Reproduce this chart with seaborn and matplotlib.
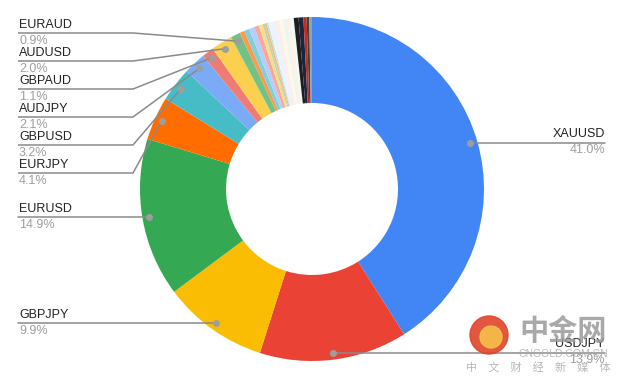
import matplotlib
matplotlib.use("Agg")
import matplotlib.pyplot as plt
import seaborn as sns
import numpy as np
from matplotlib.patches import Circle

# ---- data ----
labels = ["XAUUSD", "USDJPY", "GBPJPY", "EURUSD", "EURJPY", "GBPUSD", "AUDJPY",
          "GBPAUD", "AUDUSD", "EURAUD",
          "s1", "s2", "s3", "s4", "s5", "s6", "s7", "s8",
          "p1", "p2", "p3", "p4", "p5", "p6",
          "d1", "d2", "d3", "d4", "d5"]
values = [41.0, 13.9, 9.9, 14.9, 4.1, 3.2, 2.1, 1.1, 2.0, 0.9,
          0.45, 0.5, 0.5, 0.45, 0.35, 0.2, 0.2, 0.15,
          0.6, 0.4, 0.4, 0.35, 0.35, 0.3,
          0.45, 0.45, 0.3, 0.25, 0.25]
colors = ["#4285F4", "#EA4335", "#FBBC04", "#34A853", "#FF6D01", "#46BDC6", "#7BAAF7",
          "#F07B72", "#FCD04F", "#71C287",
          "#FF994D", "#7ED1D7", "#B3CEFB", "#F7A7A1", "#FDDE83", "#AADAB7", "#FFB680", "#B5E5E8",
          "#ECF3FE", "#FDEEED", "#FFF8E6", "#EBF6EE", "#FFF0E6", "#EDF8F9",
          "#1E1E1E", "#1A2540", "#C62828", "#2E4A3A", "#9E9E9E"]
left_stack = ["EURAUD", "AUDUSD", "GBPAUD", "AUDJPY", "GBPUSD", "EURJPY"]
left_straight = ["EURUSD", "GBPJPY"]
right_labels = ["XAUUSD", "USDJPY"]

sns.set_theme(style="white")
plt.rcParams['font.family'] = ['Liberation Sans', 'Noto Sans CJK SC', 'DejaVu Sans']

W, H = 624, 385
fig = plt.figure(figsize=(W / 100, H / 100), dpi=100)
ax = fig.add_axes([0, 0, 1, 1])

def Y(y):
    return H - y

cx, cy = 312, Y(189)
R = 172
wedges, _ = ax.pie(values, colors=colors, startangle=90, counterclock=False,
                   radius=R, center=(cx, cy),
                   wedgeprops=dict(width=86, linewidth=0))
ax.set_xlim(0, W)
ax.set_ylim(0, H)
ax.set_aspect('equal')
ax.axis('off')

total = sum(values)
line_c = "#8a8a8a"
dot_c = "#9e9e9e"
txt_c = "#222222"
pct_c = "#9e9e9e"
fs = 9

def dot_of(name):
    w = wedges[labels.index(name)]
    a = np.deg2rad((w.theta1 + w.theta2) / 2)
    r = 165
    return cx + r * np.cos(a), cy + r * np.sin(a)

def pct(name):
    return f"{values[labels.index(name)] / total * 100:.1f}%"

def put_texts(name, x, ly, ha):
    ax.text(x, ly + 8.5, name, fontsize=fs, color=txt_c, ha=ha, va='center')
    ax.text(x, ly - 7.5, pct(name), fontsize=fs, color=pct_c, ha=ha, va='center')

# left stacked labels
stack_y = [33, 61, 89, 117, 145, 173]
for name, ly_img in zip(left_stack, stack_y):
    dx, dy = dot_of(name)
    ly = Y(ly_img)
    ax.plot([18, 133, dx], [ly, ly, dy], color=line_c, lw=1.1, solid_capstyle='butt', zorder=3)
    ax.plot(dx, dy, 'o', ms=4, color=dot_c, zorder=4)
    put_texts(name, 19, ly, 'left')

for name in left_straight:
    dx, dy = dot_of(name)
    ax.plot([18, dx], [dy, dy], color=line_c, lw=1.1, zorder=3)
    ax.plot(dx, dy, 'o', ms=4, color=dot_c, zorder=4)
    put_texts(name, 19, dy, 'left')

for name in right_labels:
    dx, dy = dot_of(name)
    ax.plot([dx, 605], [dy, dy], color=line_c, lw=1.1, zorder=3)
    ax.plot(dx, dy, 'o', ms=4, color=dot_c, zorder=4)
    put_texts(name, 605, dy, 'right')

# watermark
ax.add_patch(Circle((489, Y(335)), 19, color="#E0452A", alpha=0.9, zorder=5))
ax.add_patch(Circle((491, Y(337)), 11, color="#F7C04A", alpha=0.9, zorder=6))
ax.text(563, Y(331), "中金网", fontsize=21, color="#9a9a9a", alpha=0.85,
        ha='center', va='center', fontweight='bold', zorder=6,
        family=['Noto Sans CJK SC', 'DejaVu Sans'])
ax.text(563, Y(354), "CNGOLD.COM.CN", fontsize=7.5, color="#aaaaaa", alpha=0.8,
        ha='center', va='center', zorder=6)
ax.text(538, Y(367), "中　文　财　经　新　媒　体", fontsize=8, color="#aaaaaa", alpha=0.85,
        ha='center', va='center', zorder=6,
        family=['Noto Sans CJK SC', 'DejaVu Sans'])

fig.savefig("out.png", dpi=100)
